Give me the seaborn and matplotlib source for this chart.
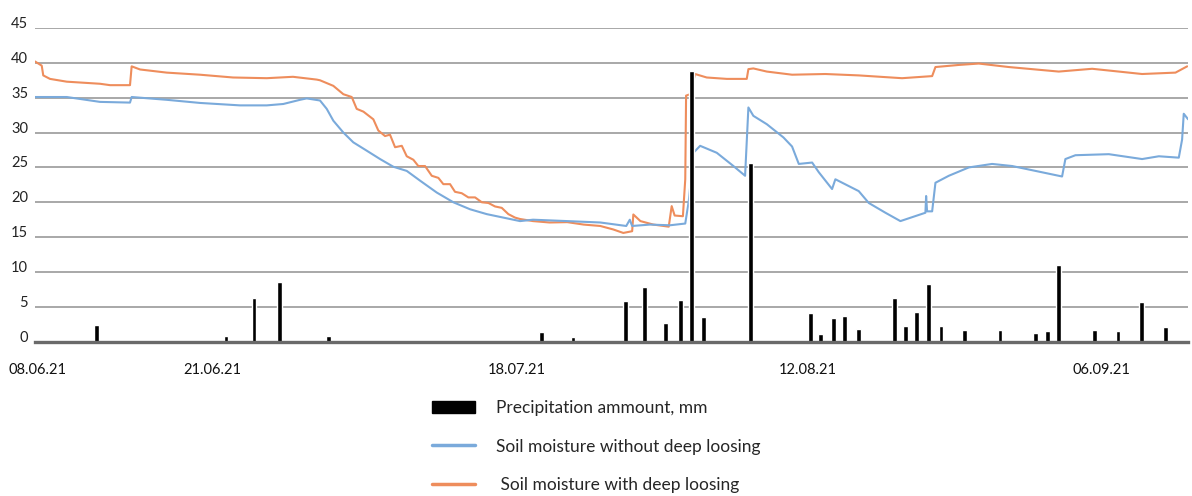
import matplotlib
matplotlib.use("Agg")
import matplotlib.pyplot as plt
import matplotlib.transforms as mtransforms
from matplotlib.lines import Line2D
from matplotlib.patches import Patch
import pandas as pd
import seaborn as sns

# days counted from 08.06.21
tick_days = [0.25, 15.0, 40.85, 65.5, 90.4]
tick_labels = ["08.06.21", "21.06.21", "18.07.21", "12.08.21", "06.09.21"]

# precipitation, mm
rain_day = [5.23, 16.19, 18.56, 20.70, 24.86, 42.94, 45.59, 50.06, 51.67, 53.42,
            54.69, 55.62, 56.64, 60.62, 65.70, 66.58, 67.69, 68.62, 69.77, 72.80,
            73.75, 74.72, 75.74, 76.78, 78.75, 81.78, 84.75, 85.79, 86.75, 89.75,
            91.78, 93.73, 95.79]
rain_mm = [2.4, 0.8, 6.3, 8.5, 0.8, 1.45, 0.7, 5.8, 7.9, 2.65,
           6.0, 38.8, 3.5, 25.7, 4.1, 1.07, 3.4, 3.75, 1.8, 6.25,
           2.26, 4.3, 8.3, 2.26, 1.7, 1.7, 1.3, 1.5, 10.95, 1.7,
           1.5, 5.7, 2.1]

# soil moisture with deep loosing (orange)
with_day = [0.0, 0.57, 0.70, 1.27, 2.69, 5.51, 6.36, 8.05, 8.19, 8.90,
            11.16, 13.98, 16.78, 19.64, 21.86, 23.87, 24.15, 25.28, 26.13, 26.84,
            27.26, 27.83, 28.67, 29.09, 29.66, 30.08, 30.51, 31.08, 31.50, 32.06,
            32.48, 33.05, 33.62, 34.18, 34.60, 35.17, 35.59, 36.16, 36.72, 37.29,
            37.86, 38.42, 38.98, 39.55, 40.11, 40.68, 41.10, 42.20, 43.60, 45.10,
            46.50, 47.90, 49.00, 49.85, 50.60, 50.70, 51.30, 52.40, 53.70, 53.95,
            54.20, 54.90, 55.10, 55.17, 55.51, 55.93, 56.92, 58.62, 60.31, 60.45,
            60.87, 62.01, 64.15, 66.97, 69.80, 73.47, 76.02, 76.30, 78.28, 79.97,
            82.52, 86.75, 89.58, 93.81, 96.64, 97.63]
with_val = [40.2, 39.6, 38.2, 37.7, 37.3, 37.0, 36.8, 36.8, 39.5, 39.05,
            38.6, 38.3, 37.9, 37.8, 38.0, 37.6, 37.5, 36.7, 35.5, 35.1,
            33.4, 33.0, 31.9, 30.3, 29.5, 29.7, 27.9, 28.1, 26.6, 26.1,
            25.2, 25.2, 23.8, 23.5, 22.6, 22.6, 21.5, 21.3, 20.7, 20.7,
            20.0, 19.9, 19.4, 19.2, 18.3, 17.8, 17.6, 17.3, 17.1, 17.15,
            16.8, 16.6, 16.1, 15.6, 15.85, 18.25, 17.3, 16.8, 16.5, 19.45,
            18.1, 18.0, 23.3, 35.3, 35.5, 38.4, 37.9, 37.7, 37.7, 39.1,
            39.2, 38.75, 38.3, 38.4, 38.2, 37.8, 38.1, 39.4, 39.7, 39.9,
            39.4, 38.75, 39.15, 38.4, 38.6, 39.5]

# soil moisture without deep loosing (blue)
without_day = [0.0, 2.69, 5.51, 8.05, 8.19, 11.16, 13.98, 17.37, 19.64, 21.04,
               22.46, 23.02, 24.15, 24.72, 25.28, 26.13, 26.97, 28.11, 29.24, 30.36,
               31.50, 32.63, 34.04, 35.45, 36.86, 38.28, 39.69, 41.10, 42.20, 45.10,
               47.90, 50.10, 50.40, 50.60, 52.10, 53.80, 55.10, 55.40, 55.79, 56.36,
               57.77, 59.18, 60.17, 60.45, 60.87, 62.01, 63.42, 64.15, 64.72, 65.85,
               66.42, 67.54, 67.82, 69.80, 70.65, 72.06, 73.33, 75.45, 75.51, 75.59,
               76.02, 76.30, 77.43, 79.13, 81.10, 82.80, 85.34, 87.03, 87.31, 88.16,
               90.99, 93.81, 95.23, 96.92, 97.20, 97.34, 97.71]
without_val = [35.1, 35.1, 34.4, 34.3, 35.1, 34.7, 34.25, 33.9, 33.9, 34.1,
               34.7, 34.9, 34.6, 33.4, 31.7, 30.0, 28.6, 27.4, 26.2, 25.1,
               24.5, 23.1, 21.4, 20.0, 19.0, 18.3, 17.8, 17.3, 17.5, 17.3,
               17.1, 16.6, 17.5, 16.6, 16.8, 16.7, 16.95, 20.2, 27.1, 28.1,
               27.1, 25.2, 23.8, 33.6, 32.4, 31.2, 29.3, 28.0, 25.5, 25.7,
               24.3, 21.9, 23.3, 21.6, 19.9, 18.5, 17.3, 18.5, 20.9, 18.7,
               18.7, 22.8, 23.8, 25.0, 25.5, 25.2, 24.3, 23.7, 26.2, 26.75,
               26.9, 26.2, 26.6, 26.4, 29.0, 32.7, 31.9]

sns.set_theme(style="white")
plt.rcParams["font.family"] = ["Lato", "DejaVu Sans"]

fig = plt.figure(figsize=(11.92, 4.96), dpi=100)
ax = fig.add_axes([35 / 1192, 1 - 341.7 / 496, (1188 - 35) / 1192, (341.7 - 28) / 496])

blue = "#7aaadb"
orange = "#ee8d5c"

sns.lineplot(x=with_day, y=with_val, ax=ax, color=orange, lw=1.5,
             estimator=None, sort=False, zorder=2)
sns.lineplot(x=without_day, y=without_val, ax=ax, color=blue, lw=1.5,
             estimator=None, sort=False, zorder=2.1)
ax.bar(rain_day, rain_mm, width=0.4, color="black", zorder=2.3)

ax.set_xlim(0, 97.7)
ax.set_ylim(0, 45)
ax.set_yticks(range(0, 46, 5))
ax.yaxis.grid(True, color="#a8a8a8", lw=1.4)
ax.xaxis.grid(False)
ax.set_axisbelow(True)

for side in ["left", "right", "top"]:
    ax.spines[side].set_visible(False)
ax.spines["bottom"].set_color("#6a6a6a")
ax.spines["bottom"].set_linewidth(2.4)
ax.spines["bottom"].set_zorder(2.5)

ax.set_xticks(tick_days)
ax.set_xticklabels(tick_labels)
ax.tick_params(axis="x", length=0, pad=15, labelsize=10.5, labelcolor="#111111")
ax.tick_params(axis="y", length=0, pad=5, labelsize=10.5, labelcolor="#222222")

# y labels sit a little above their gridlines
shift = mtransforms.ScaledTranslation(0, 4 / 72, fig.dpi_scale_trans)
for lab in ax.get_yticklabels():
    lab.set_transform(lab.get_transform() + shift)

ax.set_xlabel("")
ax.set_ylabel("")

handles = [
    Patch(facecolor="black", edgecolor="black"),
    Line2D([], [], color=blue, lw=2.5),
    Line2D([], [], color=orange, lw=2.5),
]
labels = ["Precipitation ammount, mm",
          "Soil moisture without deep loosing",
          " Soil moisture with deep loosing"]
fig.legend(handles, labels, loc="upper left", bbox_to_anchor=(432 / 1192, 1 - 400 / 496),
           frameon=False, fontsize=12.5, handlelength=2.5, handleheight=0.7,
           handletextpad=1.2, labelspacing=1.3, borderpad=0, borderaxespad=0)

fig.savefig("out.png", dpi=100)
